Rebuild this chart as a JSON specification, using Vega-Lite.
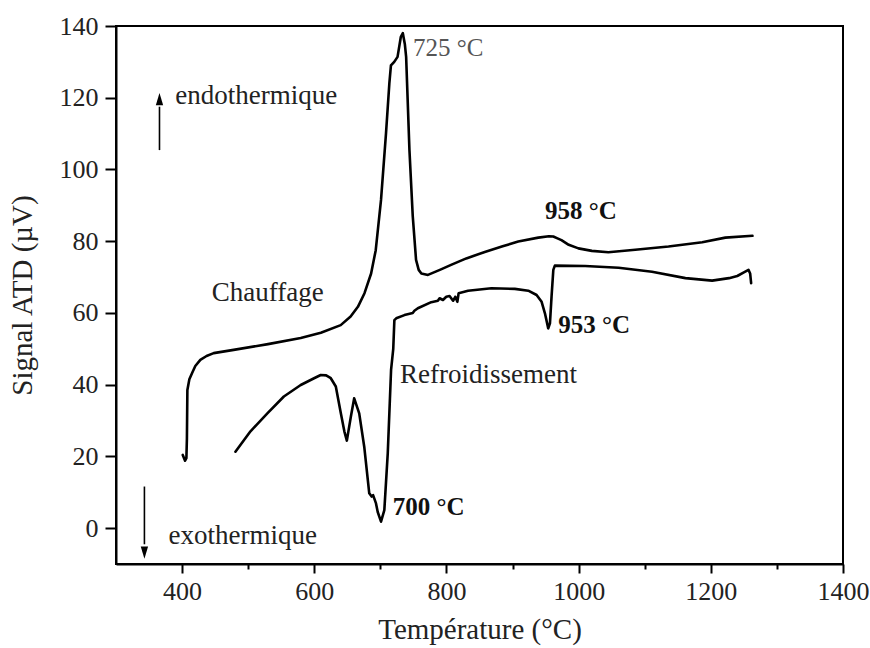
{
  "$schema": "https://vega.github.io/schema/vega-lite/v6.json",
  "autosize": "none",
  "width": 727,
  "height": 538,
  "padding": {"left": 116, "top": 26, "right": 27, "bottom": 84},
  "background": "white",
  "config": {
    "view": {"stroke": "black", "strokeWidth": 2},
    "font": "Liberation Serif",
    "axis": {
      "domainColor": "black", "domainWidth": 2, "tickColor": "black", "tickWidth": 2,
      "labelFont": "Liberation Serif", "labelFontSize": 26, "labelColor": "#222",
      "titleFont": "Liberation Serif", "titleFontSize": 29, "titleFontWeight": "normal", "titleColor": "#222",
      "grid": false
    }
  },
  "datasets": {
    "curves": [
      {"s": "Chauffage", "i": 1, "t": 401, "v": 20.4},
      {"s": "Chauffage", "i": 2, "t": 404.5, "v": 18.8},
      {"s": "Chauffage", "i": 3, "t": 406.5, "v": 19.5},
      {"s": "Chauffage", "i": 4, "t": 407.3, "v": 25},
      {"s": "Chauffage", "i": 5, "t": 408, "v": 38.5},
      {"s": "Chauffage", "i": 6, "t": 411, "v": 41.5},
      {"s": "Chauffage", "i": 7, "t": 415, "v": 43.2},
      {"s": "Chauffage", "i": 8, "t": 420, "v": 45.2},
      {"s": "Chauffage", "i": 9, "t": 427.6, "v": 46.9},
      {"s": "Chauffage", "i": 10, "t": 437, "v": 48},
      {"s": "Chauffage", "i": 11, "t": 447.8, "v": 48.8},
      {"s": "Chauffage", "i": 12, "t": 478, "v": 49.7},
      {"s": "Chauffage", "i": 13, "t": 530, "v": 51.3},
      {"s": "Chauffage", "i": 14, "t": 579.5, "v": 53},
      {"s": "Chauffage", "i": 15, "t": 610, "v": 54.5},
      {"s": "Chauffage", "i": 16, "t": 640, "v": 56.6},
      {"s": "Chauffage", "i": 17, "t": 655, "v": 59},
      {"s": "Chauffage", "i": 18, "t": 666, "v": 61.7},
      {"s": "Chauffage", "i": 19, "t": 676, "v": 65.5},
      {"s": "Chauffage", "i": 20, "t": 686, "v": 71},
      {"s": "Chauffage", "i": 21, "t": 693, "v": 77.5},
      {"s": "Chauffage", "i": 22, "t": 701, "v": 91.5},
      {"s": "Chauffage", "i": 23, "t": 708.5, "v": 110},
      {"s": "Chauffage", "i": 24, "t": 713.6, "v": 124},
      {"s": "Chauffage", "i": 25, "t": 716, "v": 129},
      {"s": "Chauffage", "i": 26, "t": 721, "v": 130},
      {"s": "Chauffage", "i": 27, "t": 726, "v": 131.4},
      {"s": "Chauffage", "i": 28, "t": 731, "v": 137},
      {"s": "Chauffage", "i": 29, "t": 734, "v": 138},
      {"s": "Chauffage", "i": 30, "t": 737, "v": 135},
      {"s": "Chauffage", "i": 31, "t": 739, "v": 131.4},
      {"s": "Chauffage", "i": 32, "t": 744, "v": 105.4},
      {"s": "Chauffage", "i": 33, "t": 749, "v": 87},
      {"s": "Chauffage", "i": 34, "t": 754, "v": 74.8},
      {"s": "Chauffage", "i": 35, "t": 758, "v": 72},
      {"s": "Chauffage", "i": 36, "t": 762, "v": 71},
      {"s": "Chauffage", "i": 37, "t": 772, "v": 70.6},
      {"s": "Chauffage", "i": 38, "t": 790, "v": 72},
      {"s": "Chauffage", "i": 39, "t": 807, "v": 73.4},
      {"s": "Chauffage", "i": 40, "t": 830, "v": 75.2},
      {"s": "Chauffage", "i": 41, "t": 858, "v": 77},
      {"s": "Chauffage", "i": 42, "t": 885, "v": 78.6},
      {"s": "Chauffage", "i": 43, "t": 908.6, "v": 79.9},
      {"s": "Chauffage", "i": 44, "t": 939, "v": 81},
      {"s": "Chauffage", "i": 45, "t": 955, "v": 81.4},
      {"s": "Chauffage", "i": 46, "t": 961.7, "v": 81.3},
      {"s": "Chauffage", "i": 47, "t": 968, "v": 80.8},
      {"s": "Chauffage", "i": 48, "t": 974, "v": 80.3},
      {"s": "Chauffage", "i": 49, "t": 985, "v": 79},
      {"s": "Chauffage", "i": 50, "t": 999.7, "v": 78},
      {"s": "Chauffage", "i": 51, "t": 1020, "v": 77.3},
      {"s": "Chauffage", "i": 52, "t": 1045, "v": 76.9},
      {"s": "Chauffage", "i": 53, "t": 1085.7, "v": 77.6},
      {"s": "Chauffage", "i": 54, "t": 1136, "v": 78.5},
      {"s": "Chauffage", "i": 55, "t": 1187, "v": 79.7},
      {"s": "Chauffage", "i": 56, "t": 1222, "v": 81},
      {"s": "Chauffage", "i": 57, "t": 1263, "v": 81.5},
      {"s": "Refroidissement", "i": 1, "t": 1261, "v": 68.3},
      {"s": "Refroidissement", "i": 2, "t": 1259.5, "v": 71},
      {"s": "Refroidissement", "i": 3, "t": 1257, "v": 72},
      {"s": "Refroidissement", "i": 4, "t": 1250, "v": 71.3},
      {"s": "Refroidissement", "i": 5, "t": 1240, "v": 70.3},
      {"s": "Refroidissement", "i": 6, "t": 1227.5, "v": 69.7},
      {"s": "Refroidissement", "i": 7, "t": 1202, "v": 69},
      {"s": "Refroidissement", "i": 8, "t": 1161.6, "v": 69.7},
      {"s": "Refroidissement", "i": 9, "t": 1111, "v": 71.5},
      {"s": "Refroidissement", "i": 10, "t": 1060.5, "v": 72.6},
      {"s": "Refroidissement", "i": 11, "t": 1009.8, "v": 73.1},
      {"s": "Refroidissement", "i": 12, "t": 964, "v": 73.2},
      {"s": "Refroidissement", "i": 13, "t": 961.7, "v": 72},
      {"s": "Refroidissement", "i": 14, "t": 959, "v": 64.5},
      {"s": "Refroidissement", "i": 15, "t": 956.6, "v": 57.1},
      {"s": "Refroidissement", "i": 16, "t": 954, "v": 55.7},
      {"s": "Refroidissement", "i": 17, "t": 949, "v": 59.9},
      {"s": "Refroidissement", "i": 18, "t": 944, "v": 63.1},
      {"s": "Refroidissement", "i": 19, "t": 936.4, "v": 65},
      {"s": "Refroidissement", "i": 20, "t": 923.8, "v": 66.2},
      {"s": "Refroidissement", "i": 21, "t": 903.5, "v": 66.7},
      {"s": "Refroidissement", "i": 22, "t": 868, "v": 66.9},
      {"s": "Refroidissement", "i": 23, "t": 832.7, "v": 66.2},
      {"s": "Refroidissement", "i": 24, "t": 818.4, "v": 65.5},
      {"s": "Refroidissement", "i": 25, "t": 816.5, "v": 63.1},
      {"s": "Refroidissement", "i": 26, "t": 813.4, "v": 64.5},
      {"s": "Refroidissement", "i": 27, "t": 810, "v": 63.4},
      {"s": "Refroidissement", "i": 28, "t": 804.7, "v": 64.7},
      {"s": "Refroidissement", "i": 29, "t": 799.7, "v": 64.5},
      {"s": "Refroidissement", "i": 30, "t": 794.7, "v": 63.6},
      {"s": "Refroidissement", "i": 31, "t": 789.6, "v": 64.1},
      {"s": "Refroidissement", "i": 32, "t": 787, "v": 63.4},
      {"s": "Refroidissement", "i": 33, "t": 777, "v": 63},
      {"s": "Refroidissement", "i": 34, "t": 756.7, "v": 61.3},
      {"s": "Refroidissement", "i": 35, "t": 751.5, "v": 60.6},
      {"s": "Refroidissement", "i": 36, "t": 749, "v": 60},
      {"s": "Refroidissement", "i": 37, "t": 736.4, "v": 59.4},
      {"s": "Refroidissement", "i": 38, "t": 724, "v": 58.5},
      {"s": "Refroidissement", "i": 39, "t": 721.2, "v": 58},
      {"s": "Refroidissement", "i": 40, "t": 719.5, "v": 50},
      {"s": "Refroidissement", "i": 41, "t": 716.2, "v": 44.1},
      {"s": "Refroidissement", "i": 42, "t": 711.2, "v": 20.9},
      {"s": "Refroidissement", "i": 43, "t": 706, "v": 5},
      {"s": "Refroidissement", "i": 44, "t": 701, "v": 1.8},
      {"s": "Refroidissement", "i": 45, "t": 696, "v": 4.5},
      {"s": "Refroidissement", "i": 46, "t": 693.4, "v": 6.9},
      {"s": "Refroidissement", "i": 47, "t": 689, "v": 9.2},
      {"s": "Refroidissement", "i": 48, "t": 686.8, "v": 8.8},
      {"s": "Refroidissement", "i": 49, "t": 683.2, "v": 9.7},
      {"s": "Refroidissement", "i": 50, "t": 675.6, "v": 22.7},
      {"s": "Refroidissement", "i": 51, "t": 668, "v": 32},
      {"s": "Refroidissement", "i": 52, "t": 660.4, "v": 36.2},
      {"s": "Refroidissement", "i": 53, "t": 655.4, "v": 31.1},
      {"s": "Refroidissement", "i": 54, "t": 649.3, "v": 24.4},
      {"s": "Refroidissement", "i": 55, "t": 645.5, "v": 27},
      {"s": "Refroidissement", "i": 56, "t": 640.2, "v": 32},
      {"s": "Refroidissement", "i": 57, "t": 632.6, "v": 39.5},
      {"s": "Refroidissement", "i": 58, "t": 625, "v": 41.8},
      {"s": "Refroidissement", "i": 59, "t": 618, "v": 42.6},
      {"s": "Refroidissement", "i": 60, "t": 609.8, "v": 42.7},
      {"s": "Refroidissement", "i": 61, "t": 599.7, "v": 41.8},
      {"s": "Refroidissement", "i": 62, "t": 579.5, "v": 39.9},
      {"s": "Refroidissement", "i": 63, "t": 554, "v": 36.7},
      {"s": "Refroidissement", "i": 64, "t": 529, "v": 32},
      {"s": "Refroidissement", "i": 65, "t": 503.5, "v": 27},
      {"s": "Refroidissement", "i": 66, "t": 480.7, "v": 21.3}
    ],
    "labels": [
      {"label": "endothermique", "t": 389.6, "v": 120.5},
      {"label": "Chauffage", "t": 445, "v": 65.6},
      {"label": "Refroidissement", "t": 729.8, "v": 42.7},
      {"label": "exothermique", "t": 379.5, "v": -2.2}
    ],
    "peak": [
      {"label": "725 °C", "t": 749.5, "v": 134}
    ],
    "bold": [
      {"label": "958 °C", "t": 949, "v": 88.4},
      {"label": "953 °C", "t": 969, "v": 56.6},
      {"label": "700 °C", "t": 718.7, "v": 6.0}
    ],
    "arrows": [
      {"dir": "up", "t": 365.8, "v": 105.4, "v2": 117.5, "tip": 119.6},
      {"dir": "down", "t": 343, "v": 11.6, "v2": -4.5, "tip": -6.8}
    ]
  },
  "layer": [
    {
      "data": {"name": "curves"},
      "mark": {"type": "line", "color": "black", "strokeWidth": 2.6, "strokeJoin": "round", "strokeCap": "round"},
      "encoding": {
        "x": {
          "field": "t", "type": "quantitative",
          "scale": {"domain": [300, 1400], "nice": false, "zero": false},
          "axis": {
            "title": "Température (°C)",
            "values": [400, 500, 600, 700, 800, 900, 1000, 1100, 1200, 1300, 1400],
            "labelExpr": "datum.value % 200 === 0 ? datum.label : ''",
            "format": "d",
            "labelFlush": false,
            "tickSize": {"condition": {"test": "datum.value % 200 === 0", "value": 9}, "value": 5},
            "labelPadding": 5,
            "titlePadding": 11
          }
        },
        "y": {
          "field": "v", "type": "quantitative",
          "scale": {"domain": [-10, 140], "nice": false, "zero": false},
          "axis": {
            "title": "Signal ATD (µV)",
            "values": [0, 10, 20, 30, 40, 50, 60, 70, 80, 90, 100, 110, 120, 130, 140],
            "labelExpr": "datum.value % 20 === 0 ? datum.label : ''",
            "tickSize": {"condition": {"test": "datum.value % 20 === 0", "value": 11}, "value": 6},
            "labelPadding": 7,
            "titlePadding": 22
          }
        },
        "detail": {"field": "s"},
        "order": {"field": "i", "type": "quantitative"}
      }
    },
    {
      "data": {"name": "arrows"},
      "mark": {"type": "rule", "color": "black", "strokeWidth": 1.6},
      "encoding": {
        "x": {"field": "t", "type": "quantitative"},
        "y": {"field": "v", "type": "quantitative"},
        "y2": {"field": "v2"}
      }
    },
    {
      "data": {"name": "arrows"},
      "mark": {"type": "point", "filled": true, "color": "black", "opacity": 1, "size": 150},
      "encoding": {
        "x": {"field": "t", "type": "quantitative"},
        "y": {"field": "tip", "type": "quantitative"},
        "shape": {
          "field": "dir", "type": "nominal",
          "scale": {"domain": ["up", "down"], "range": ["M0,-1L0.6,1L-0.6,1Z", "M0,1L0.6,-1L-0.6,-1Z"]},
          "legend": null
        }
      }
    },
    {
      "data": {"name": "labels"},
      "mark": {"type": "text", "align": "left", "baseline": "middle", "fontSize": 27, "font": "Liberation Serif", "color": "#222"},
      "encoding": {
        "x": {"field": "t", "type": "quantitative"},
        "y": {"field": "v", "type": "quantitative"},
        "text": {"field": "label"}
      }
    },
    {
      "data": {"name": "peak"},
      "mark": {"type": "text", "align": "left", "baseline": "middle", "fontSize": 25, "font": "Liberation Serif", "color": "#555"},
      "encoding": {
        "x": {"field": "t", "type": "quantitative"},
        "y": {"field": "v", "type": "quantitative"},
        "text": {"field": "label"}
      }
    },
    {
      "data": {"name": "bold"},
      "mark": {"type": "text", "align": "left", "baseline": "middle", "fontSize": 25, "font": "Liberation Serif", "fontWeight": "bold", "color": "#111"},
      "encoding": {
        "x": {"field": "t", "type": "quantitative"},
        "y": {"field": "v", "type": "quantitative"},
        "text": {"field": "label"}
      }
    }
  ]
}
